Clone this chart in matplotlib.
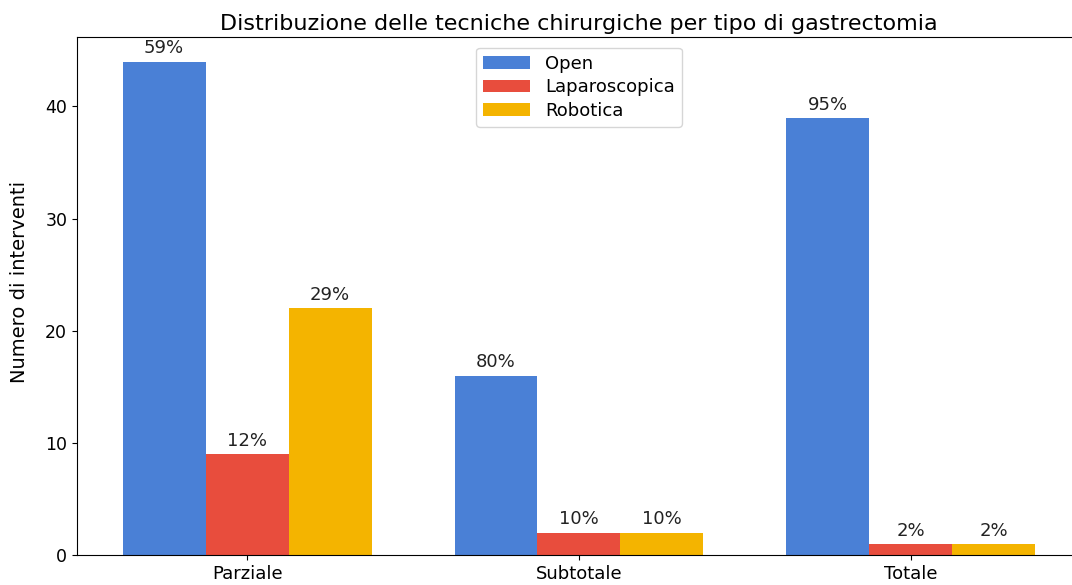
import matplotlib
matplotlib.use("Agg")
import matplotlib.pyplot as plt
import numpy as np

categories = ["Parziale", "Subtotale", "Totale"]
series_names = ["Open", "Laparoscopica", "Robotica"]
open_vals = [44, 16, 39]
lap_vals = [9, 2, 1]
rob_vals = [22, 2, 1]
pct_labels = [["59%", "80%", "95%"], ["12%", "10%", "2%"], ["29%", "10%", "2%"]]
colors = ["#4a80d6", "#e84d3d", "#f4b400"]

fig = plt.figure(figsize=(10.72, 5.85), dpi=100)
ax = fig.add_axes([0.0718, 0.0513, 0.9366, 0.8855])

x = np.arange(len(categories))
w = 0.25
all_vals = [open_vals, lap_vals, rob_vals]
for i, (vals, name) in enumerate(zip(all_vals, series_names)):
    bars = ax.bar(x + (i - 1) * w, vals, w, label=name, color=colors[i])
    for b, lab in zip(bars, pct_labels[i]):
        ax.annotate(lab, (b.get_x() + b.get_width() / 2, b.get_height()),
                    xytext=(0, 3), textcoords="offset points",
                    ha="center", va="bottom", fontsize=13, color="#222222")

ax.set_xticks(x)
ax.set_xticklabels(categories, fontsize=13)
ax.tick_params(axis="y", labelsize=12.5)
ax.set_ylim(0, 46.2)
ax.set_xlim(-0.5125, 2.5125)
ax.set_ylabel("Numero di interventi", fontsize=14)
ax.yaxis.set_label_coords(-0.048, 0.527)
ax.set_title("Distribuzione delle tecniche chirurgiche per tipo di gastrectomia",
             fontsize=16, pad=5)
ax.legend(loc="upper center", fontsize=13, labelspacing=0.3, handlelength=2.6,
          borderaxespad=0.6)

fig.savefig("out.png", dpi=100)
